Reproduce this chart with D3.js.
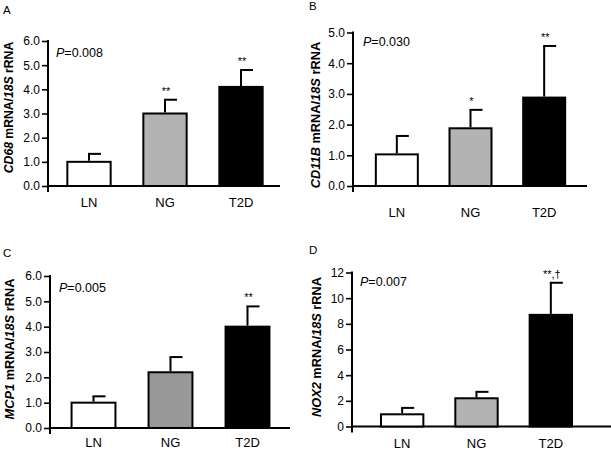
<!DOCTYPE html>
<html><head><meta charset="utf-8">
<script src="https://cdn.jsdelivr.net/npm/d3@7"></script>
<style>
body{margin:0;background:#fff;}
svg{display:block;font-family:"Liberation Sans",Arial,sans-serif;}
</style></head>
<body>
<svg id="chart" width="611" height="451"></svg>
<script>
// ---- data ----
const categories = ["LN", "NG", "T2D"];
const cd68Mean = [1.0, 3.0, 4.1];
const cd68Err  = [0.33, 0.57, 0.7];
const cd68Sig  = ["", "**", "**"];
const cd11bMean = [1.03, 1.88, 2.88];
const cd11bErr  = [0.6, 0.6, 1.68];
const cd11bSig  = ["", "*", "**"];
const mcp1Mean = [1.0, 2.2, 4.0];
const mcp1Err  = [0.25, 0.6, 0.8];
const mcp1Sig  = ["", "", "**"];
const nox2Mean = [0.95, 2.2, 8.7];
const nox2Err  = [0.5, 0.5, 2.5];
const nox2Sig  = ["", "", "**,†"];
const pValues = ["0.008", "0.030", "0.005", "0.007"];
const panelLetters = ["A", "B", "C", "D"];
const geneNames = ["CD68", "CD11B", "MCP1", "NOX2"];
const yTicksA = [0, 1, 2, 3, 4, 5, 6];
const yTicksB = [0, 1, 2, 3, 4, 5];
const yTicksC = [0, 1, 2, 3, 4, 5, 6];
const yTicksD = [0, 2, 4, 6, 8, 10, 12];

// ---- layout (positions/styles) ----
const panels = [
  {mean: cd68Mean, err: cd68Err, sig: cd68Sig, ticks: yTicksA, fmt: d3.format(".1f"),
   ax: 48, y0: 186, yTop: 41, xEnd: 280, bx0: 51, bx1: 279, ng: "#b3b3b3", catDy: 21,
   letter: [3, 14], title: [13, 107.5], titleSize: 12.2, p: [56, 57]},
  {mean: cd11bMean, err: cd11bErr, sig: cd11bSig, ticks: yTicksB, fmt: d3.format(".1f"),
   ax: 353, y0: 186, yTop: 32.5, xEnd: 587, bx0: 360, bx1: 581, ng: "#b3b3b3", catDy: 31,
   letter: [309, 10], title: [320, 115], titleSize: 12.8, p: [363, 46]},
  {mean: mcp1Mean, err: mcp1Err, sig: mcp1Sig, ticks: yTicksC, fmt: d3.format(".1f"),
   ax: 50, y0: 428, yTop: 276, xEnd: 290, bx0: 55, bx1: 286, ng: "#999999", catDy: 19,
   letter: [3, 257], title: [13.5, 349], titleSize: 12.8, p: [59, 292]},
  {mean: nox2Mean, err: nox2Err, sig: nox2Sig, ticks: yTicksD, fmt: d3.format("d"),
   ax: 352, y0: 426.5, yTop: 272.5, xEnd: 611, bx0: 365, bx1: 588, ng: "#b3b3b3", catDy: 21,
   letter: [309, 254], title: [321, 347], titleSize: 12.8, p: [360, 286]}
];

const svg = d3.select("#chart");

panels.forEach((P, i) => {
  const g = svg.append("g");
  const maxV = P.ticks[P.ticks.length - 1];
  const y = d3.scaleLinear().domain([0, maxV]).range([P.y0, P.yTop]);
  const x = d3.scaleBand().domain(categories).range([P.bx0, P.bx1])
    .paddingInner(0.43).paddingOuter(0.215);
  const fills = ["#ffffff", P.ng, "#000000"];

  // y axis
  const yAxis = d3.axisLeft(y).tickValues(P.ticks).tickFormat(P.fmt).tickSize(6).tickPadding(2);
  const ya = g.append("g").attr("transform", `translate(${P.ax},0)`).call(yAxis);
  ya.select(".domain").remove();
  ya.append("line").attr("x1", 0).attr("x2", 0).attr("y1", P.yTop - 1).attr("y2", P.y0 + 6)
    .attr("stroke", "#000").attr("stroke-width", 2);
  ya.selectAll(".tick line").attr("stroke-width", 1.6);
  ya.selectAll(".tick text").attr("font-size", 12).attr("fill", "#000")
    .attr("font-family", "'Liberation Sans',Arial,sans-serif");

  // x axis baseline
  g.append("line").attr("x1", P.ax).attr("x2", P.xEnd).attr("y1", P.y0).attr("y2", P.y0)
    .attr("stroke", "#000").attr("stroke-width", 2);

  // bars
  g.selectAll("rect.bar").data(categories).join("rect").attr("class", "bar")
    .attr("x", d => x(d)).attr("width", x.bandwidth())
    .attr("y", (d, j) => y(P.mean[j])).attr("height", (d, j) => P.y0 - y(P.mean[j]))
    .attr("fill", (d, j) => fills[j]).attr("stroke", "#000").attr("stroke-width", 2);

  // error bars
  const cx = d => x(d) + x.bandwidth() / 2;
  g.selectAll("line.err").data(categories).join("line").attr("class", "err")
    .attr("x1", cx).attr("x2", cx)
    .attr("y1", (d, j) => y(P.mean[j]) - 1).attr("y2", (d, j) => y(P.mean[j] + P.err[j]))
    .attr("stroke", "#000").attr("stroke-width", 2);
  g.selectAll("line.cap").data(categories).join("line").attr("class", "cap")
    .attr("x1", d => cx(d) - 1).attr("x2", d => cx(d) + 12)
    .attr("y1", (d, j) => y(P.mean[j] + P.err[j])).attr("y2", (d, j) => y(P.mean[j] + P.err[j]))
    .attr("stroke", "#000").attr("stroke-width", 2);

  // significance marks
  g.selectAll("text.sig").data(categories).join("text").attr("class", "sig")
    .attr("x", d => cx(d) + 1).attr("y", (d, j) => y(P.mean[j] + P.err[j]) - 5)
    .attr("text-anchor", "middle").attr("font-size", 11).text((d, j) => P.sig[j]);

  // category labels
  g.selectAll("text.cat").data(categories).join("text").attr("class", "cat")
    .attr("x", d => cx(d)).attr("y", P.y0 + P.catDy)
    .attr("text-anchor", "middle").attr("font-size", 13).text(d => d);

  // P value
  const pt = g.append("text").attr("x", P.p[0]).attr("y", P.p[1]).attr("font-size", 12.5);
  pt.append("tspan").attr("font-style", "italic").text("P");
  pt.append("tspan").text("=" + pValues[i]);

  // panel letter
  g.append("text").attr("x", P.letter[0]).attr("y", P.letter[1]).attr("font-size", 11.5)
    .text(panelLetters[i]);

  // y title
  const t = g.append("text").attr("transform", `translate(${P.title[0]},${P.title[1]}) rotate(-90)`)
    .attr("text-anchor", "middle").attr("font-size", P.titleSize).attr("font-weight", "bold");
  t.append("tspan").attr("font-style", "italic").text(geneNames[i]);
  t.append("tspan").text(" mRNA/");
  t.append("tspan").attr("font-style", "italic").text("18S");
  t.append("tspan").text(" rRNA");
});
</script>
</body></html>
